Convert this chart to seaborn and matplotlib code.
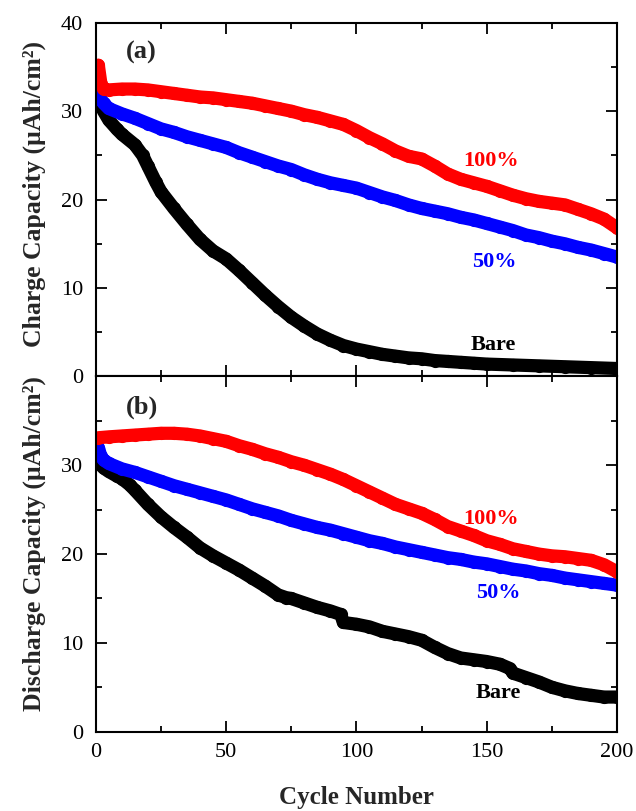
import matplotlib
matplotlib.use("Agg")
import matplotlib.pyplot as plt
from matplotlib.ticker import MultipleLocator
import numpy as np
import pandas as pd
import seaborn as sns

# ---------------- data ----------------
# (a) Charge capacity
chg_bare_cycle = [1, 2, 3, 5, 8, 10, 15, 18, 20, 23, 25, 30, 35, 40, 45, 50, 55, 60, 65, 70,
                  75, 80, 85, 90, 95, 100, 105, 110, 115, 120, 125, 130, 135, 140, 145, 150,
                  160, 170, 180, 190, 200]
chg_bare = [34.3, 30.6, 30.0, 29.0, 28.0, 27.4, 26.2, 25.0, 23.8, 22.0, 20.9, 19.0, 17.2, 15.5,
            14.2, 13.3, 12.0, 10.6, 9.2, 7.9, 6.7, 5.7, 4.8, 4.1, 3.5, 3.1, 2.8, 2.5, 2.3, 2.1,
            2.0, 1.8, 1.7, 1.6, 1.5, 1.4, 1.3, 1.2, 1.1, 1.0, 0.9]

chg_50_cycle = [1, 2, 3, 5, 10, 15, 20, 25, 30, 35, 40, 45, 50, 55, 60, 65, 70, 75, 80, 85, 90,
                95, 100, 105, 110, 115, 120, 125, 130, 135, 140, 145, 150, 155, 160, 165, 170,
                175, 180, 185, 190, 195, 200]
chg_50 = [32.0, 31.3, 30.9, 30.3, 29.7, 29.2, 28.6, 28.0, 27.6, 27.1, 26.7, 26.3, 25.9, 25.3,
          24.8, 24.3, 23.8, 23.4, 22.8, 22.3, 21.9, 21.6, 21.3, 20.8, 20.3, 19.9, 19.4, 19.0,
          18.7, 18.4, 18.0, 17.7, 17.3, 16.9, 16.5, 16.0, 15.7, 15.3, 15.0, 14.6, 14.3, 13.9, 13.5]

chg_100_cycle = [1, 2, 3, 5, 10, 15, 20, 25, 30, 35, 40, 45, 50, 55, 60, 65, 70, 75, 80, 85, 90,
                 95, 100, 105, 110, 115, 120, 125, 130, 135, 140, 145, 150, 155, 160, 165, 170,
                 175, 180, 185, 190, 195, 200]
chg_100 = [35.2, 33.1, 32.5, 32.4, 32.5, 32.5, 32.4, 32.2, 32.0, 31.8, 31.6, 31.5, 31.3, 31.1,
           30.9, 30.6, 30.3, 30.0, 29.6, 29.3, 28.9, 28.5, 27.8, 27.0, 26.3, 25.5, 24.9, 24.6,
           23.8, 22.9, 22.3, 21.9, 21.5, 21.0, 20.5, 20.1, 19.8, 19.6, 19.4, 18.9, 18.4, 17.8, 16.8]

# (b) Discharge capacity
dis_bare_cycle = [1, 2, 3, 5, 8, 10, 13, 15, 20, 25, 30, 35, 40, 45, 50, 55, 60, 65, 70, 73, 75,
                  80, 85, 90, 94, 95, 100, 105, 110, 115, 120, 125, 130, 135, 140, 145, 150, 155,
                  159, 160, 165, 170, 175, 180, 185, 190, 195, 200]
dis_bare = [30.5, 30.0, 29.7, 29.3, 28.8, 28.5, 27.8, 27.2, 25.6, 24.2, 23.0, 21.9, 20.7, 19.8,
            19.0, 18.2, 17.3, 16.4, 15.4, 15.1, 15.0, 14.5, 14.0, 13.6, 13.2, 12.3, 12.1, 11.8,
            11.3, 11.0, 10.7, 10.3, 9.5, 8.8, 8.3, 8.1, 7.9, 7.6, 7.1, 6.6, 6.1, 5.6, 5.0, 4.6,
            4.3, 4.1, 3.9, 3.9]

dis_50_cycle = [1, 2, 3, 5, 10, 15, 20, 25, 30, 35, 40, 45, 50, 55, 60, 65, 70, 75, 80, 85, 90,
                95, 100, 105, 110, 115, 120, 125, 130, 135, 140, 145, 150, 155, 160, 165, 170,
                175, 180, 185, 190, 195, 200]
dis_50 = [32.0, 31.0, 30.6, 30.2, 29.6, 29.2, 28.7, 28.2, 27.7, 27.3, 26.9, 26.5, 26.1, 25.6,
          25.1, 24.7, 24.3, 23.8, 23.4, 23.0, 22.7, 22.3, 21.9, 21.5, 21.2, 20.8, 20.5, 20.2,
          19.9, 19.6, 19.4, 19.1, 18.9, 18.6, 18.3, 18.1, 17.8, 17.6, 17.3, 17.1, 16.9, 16.7, 16.5]

dis_100_cycle = [1, 5, 10, 15, 20, 25, 30, 35, 40, 45, 50, 55, 60, 65, 70, 75, 80, 85, 90, 95,
                 100, 105, 110, 115, 120, 125, 130, 135, 140, 145, 150, 155, 160, 165, 170, 175,
                 180, 185, 190, 195, 200]
dis_100 = [33.1, 33.2, 33.3, 33.4, 33.5, 33.6, 33.6, 33.5, 33.3, 33.0, 32.7, 32.2, 31.8, 31.3,
           30.9, 30.4, 30.0, 29.5, 29.0, 28.4, 27.7, 27.0, 26.3, 25.6, 25.1, 24.6, 23.9, 23.1,
           22.6, 22.1, 21.5, 21.1, 20.6, 20.3, 20.0, 19.8, 19.7, 19.5, 19.3, 18.8, 18.0]

samples = ["Bare", "50%", "100%"]
colors = {"Bare": "#000000", "50%": "#0000ff", "100%": "#ff0000"}

xticks = [0, 50, 100, 150, 200]
yticks_a = [0, 10, 20, 30, 40]
yticks_b = [0, 10, 20, 30]


def long_frame(parts):
    frames = []
    for name, cyc, val in parts:
        frames.append(pd.DataFrame({"Cycle": cyc, "Capacity": val, "Sample": name}))
    return pd.concat(frames, ignore_index=True)


df_a = long_frame([("Bare", chg_bare_cycle, chg_bare),
                   ("50%", chg_50_cycle, chg_50),
                   ("100%", chg_100_cycle, chg_100)])
df_b = long_frame([("Bare", dis_bare_cycle, dis_bare),
                   ("50%", dis_50_cycle, dis_50),
                   ("100%", dis_100_cycle, dis_100)])

# ---------------- style ----------------
sns.set_style("ticks")
plt.rcParams["font.family"] = ["Liberation Serif", "DejaVu Serif"]
plt.rcParams["axes.linewidth"] = 1.5
plt.rcParams["axes.edgecolor"] = "black"

fig = plt.figure(figsize=(6.36, 8.11), dpi=100)
ax1 = fig.add_axes([0.1505, 0.5358, 0.8197, 0.4362])
ax2 = fig.add_axes([0.1505, 0.0978, 0.8197, 0.4380])

for ax, df in ((ax1, df_a), (ax2, df_b)):
    sns.lineplot(data=df, x="Cycle", y="Capacity", hue="Sample", hue_order=samples,
                 palette=colors, estimator=None, sort=False, legend=False, ax=ax,
                 linewidth=9.5, marker="o", markersize=9.5, markeredgewidth=0,
                 solid_capstyle="round", solid_joinstyle="round")
    ax.set_xlim(0, 200)
    ax.set_ylim(0, 40)
    ax.set_xticks(xticks)
    ax.xaxis.set_minor_locator(MultipleLocator(25))
    ax.yaxis.set_minor_locator(MultipleLocator(5))
    ax.tick_params(which="both", direction="in", top=True, right=True, width=1.3,
                   colors="black", labelsize=16)
    ax.tick_params(which="major", length=8)
    ax.tick_params(which="minor", length=4.5)
    ax.tick_params(axis="y", pad=9)
    ax.tick_params(axis="x", pad=8)
    for s in ax.spines.values():
        s.set_linewidth(1.5)
        s.set_color("black")

ax1.set_yticks(yticks_a)
ax2.set_yticks(yticks_b)
ax1.tick_params(labelbottom=False)
ax1.set_xlabel("")

ax1.set_ylabel("Charge Capacity (μAh/cm²)", fontsize=18.5, fontweight="bold")
ax2.set_ylabel("Discharge Capacity (μAh/cm²)", fontsize=18.5, fontweight="bold")
ax1.yaxis.set_label_coords(-0.095, 0.515)
ax2.yaxis.set_label_coords(-0.095, 0.53)
ax2.set_xlabel("Cycle Number", fontsize=18, fontweight="bold")
ax2.xaxis.set_label_coords(0.5, -0.152)

# panel tags and series labels
ax1.text(17.3, 36.0, "(a)", fontsize=19, fontweight="bold", ha="center", va="baseline")
ax2.text(17.7, 35.8, "(b)", fontsize=19, fontweight="bold", ha="center", va="baseline")

ax1.text(151.6, 23.8, "100%", color=colors["100%"], fontsize=16, fontweight="bold",
         ha="center", va="baseline")
ax1.text(152.8, 12.4, "50%", color=colors["50%"], fontsize=16, fontweight="bold",
         ha="center", va="baseline")
ax1.text(152.4, 3.0, "Bare", color=colors["Bare"], fontsize=16, fontweight="bold",
         ha="center", va="baseline")

ax2.text(151.6, 23.4, "100%", color=colors["100%"], fontsize=16, fontweight="bold",
         ha="center", va="baseline")
ax2.text(154.3, 15.0, "50%", color=colors["50%"], fontsize=16, fontweight="bold",
         ha="center", va="baseline")
ax2.text(154.3, 3.8, "Bare", color=colors["Bare"], fontsize=16, fontweight="bold",
         ha="center", va="baseline")

fig.savefig("out.png", dpi=100)
